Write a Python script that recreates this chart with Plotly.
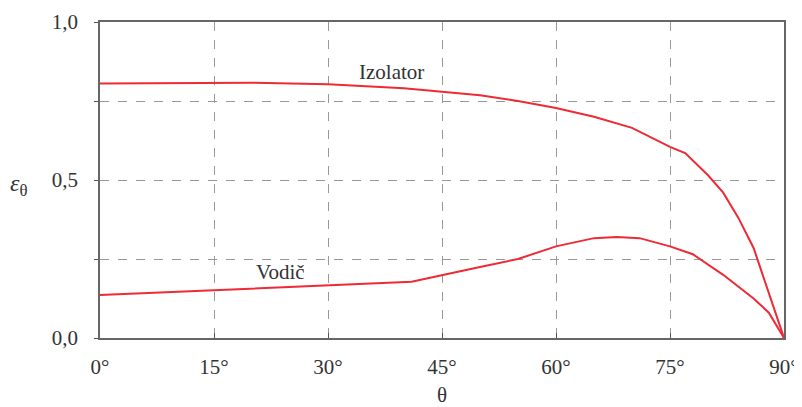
import plotly.graph_objects as go

theta_izolator = [0, 10, 20, 30, 40, 50, 55, 60, 65, 70, 75, 77, 80, 82, 84, 86, 90]
eps_izolator = [0.805, 0.807, 0.808, 0.803, 0.79, 0.768, 0.75, 0.728, 0.70, 0.665, 0.605, 0.585, 0.515, 0.46, 0.38, 0.285, 0.0]

theta_vodic = [0, 10, 20, 30, 41, 50, 55, 60, 65, 68, 71, 75, 78, 82, 86, 88, 90]
eps_vodic = [0.136, 0.146, 0.156, 0.166, 0.178, 0.225, 0.25, 0.29, 0.316, 0.32, 0.316, 0.29, 0.265, 0.2, 0.125, 0.08, 0.0]

x_ticks = [0, 15, 30, 45, 60, 75, 90]
x_ticktext = ["0°", "15°", "30°", "45°", "60°", "75°", "90°"]
y_ticks = [0, 0.25, 0.5, 0.75, 1.0]
y_ticktext = ["0,0", "", "0,5", "", "1,0"]

RED = "#ee2a36"
FONT = "'Liberation Serif', 'DejaVu Serif', serif"

fig = go.Figure()
fig.add_trace(go.Scatter(x=theta_izolator, y=eps_izolator, mode="lines",
                         line=dict(color=RED, width=2), showlegend=False))
fig.add_trace(go.Scatter(x=theta_vodic, y=eps_vodic, mode="lines",
                         line=dict(color=RED, width=2), showlegend=False))

# page body has an 8px margin: figure is 794x399 placed at (8, 8)
fig.update_layout(
    width=794, height=399,
    margin=dict(l=92, r=18, t=14, b=69),
    paper_bgcolor="white", plot_bgcolor="white",
    font=dict(family=FONT, size=21, color="#333333"),
    xaxis=dict(range=[0, 90], tickvals=x_ticks, ticktext=x_ticktext, automargin=False,
               showgrid=True, gridcolor="#999999", griddash="dash", gridwidth=1,
               showline=True, linecolor="#666666", linewidth=1.5, mirror=True,
               ticks="inside", ticklen=5, tickcolor="#555555",
               zeroline=False, ticklabelstandoff=9,
               title=dict(text="θ", font=dict(family=FONT, size=21), standoff=10)),
    yaxis=dict(range=[0, 1.0], tickvals=y_ticks, ticktext=y_ticktext, automargin=False,
               showgrid=True, gridcolor="#999999", griddash="dash", gridwidth=1,
               showline=True, linecolor="#666666", linewidth=1.5, mirror=True,
               ticks="outside", ticklen=4, tickcolor="#555555",
               zeroline=False, ticklabelstandoff=12),
)

fig.add_annotation(x=38.3, y=0.842, xref="x", yref="y", text="Izolator", showarrow=False,
                   font=dict(family=FONT, size=21, color="#333333"))
fig.add_annotation(x=23.8, y=0.209, xref="x", yref="y", text="Vodič", showarrow=False,
                   font=dict(family=FONT, size=21, color="#333333"))
fig.add_annotation(x=(19 - 100) / 684, y=(338 - 185) / 316, xref="paper", yref="paper",
                   xanchor="center", yanchor="middle",
                   text="<i>ε</i><sub>θ</sub>",
                   showarrow=False, font=dict(family=FONT, size=24, color="#333333"))

fig.write_html("out.html")
